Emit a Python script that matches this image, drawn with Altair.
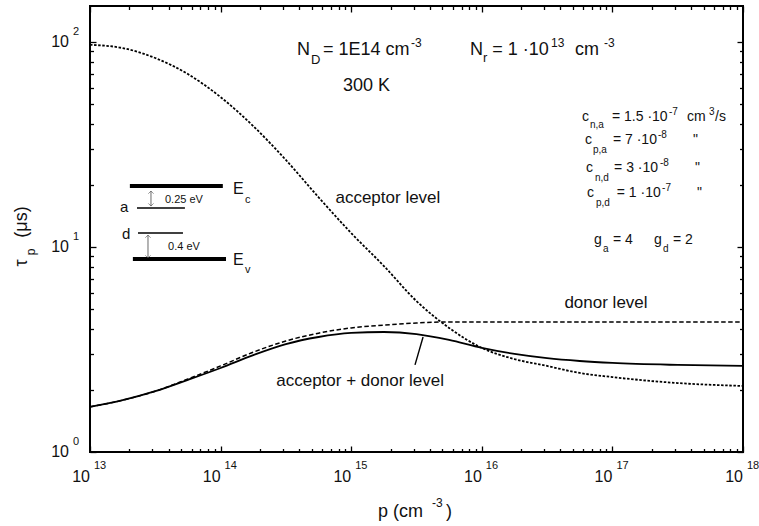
import altair as alt
import pandas as pd

# ---------------- data ----------------
p_cm3 = [1e13, 1.78e13, 3.16e13, 5.62e13, 1e14, 1.78e14, 3.16e14, 5.62e14, 1e15, 1.78e15,
         3.16e15, 5.62e15, 1e16, 1.78e16, 3.16e16, 5.62e16, 1e17, 3.16e17, 1e18]
tau_acceptor = [97, 93.5, 83.6, 69.8, 53.9, 38.9, 26.6, 17.5, 11.7, 8.08,
                5.45, 4.03, 3.22, 2.84, 2.63, 2.43, 2.32, 2.17, 2.10]
tau_donor = [1.66, 1.79, 1.98, 2.27, 2.63, 3.07, 3.48, 3.80, 4.03, 4.16,
             4.26, 4.31, 4.31, 4.31, 4.31, 4.31, 4.31, 4.31, 4.31]
tau_both = [1.66, 1.79, 1.98, 2.25, 2.57, 2.97, 3.36, 3.64, 3.81, 3.85,
            3.76, 3.52, 3.22, 3.01, 2.87, 2.78, 2.72, 2.66, 2.63]

x_major = [1e13, 1e14, 1e15, 1e16, 1e17, 1e18]
x_exp = ["13", "14", "15", "16", "17", "18"]
y_major = [1, 10, 100]
y_exp = ["0", "1", "2"]
x_minor = [k * 10.0 ** e for e in range(13, 18) for k in range(2, 10)]
y_minor = [k * 10.0 ** e for e in range(0, 2) for k in range(2, 10)]

# annotation texts (left aligned), anchored in data coordinates
ann_text = ["N", "D", "= 1E14 cm", "-3", "N", "r", "= 1 \u00b710", "13", "cm", "-3", "300 K",
            "c", "n,a", "= 1.5 \u00b710", "-7", "cm", "3", "/s",
            "c", "p,a", "= 7 \u00b710", "-8", "\"",
            "c", "n,d", "= 3 \u00b710", "-8", "\"",
            "c", "p,d", "= 1 \u00b710", "-7", "\"",
            "g", "a", "= 4", "g", "d", "= 2",
            "a", "d", "E", "c", "E", "v", "0.25 eV", "0.4 eV"]
ann_p = [3.85e14, 4.92e14, 6.08e14, 2.87e15, 8.13e15, 1.02e16, 1.20e16, 3.39e16, 5.18e16, 8.63e16, 8.65e14,
         5.85e16, 6.73e16, 9.93e16, 2.71e17, 3.73e17, 5.50e17, 6.11e17,
         6.17e16, 7.10e16, 1.01e17, 2.23e17, 4.14e17,
         6.28e16, 7.36e16, 1.03e17, 2.31e17, 4.29e17,
         6.40e16, 7.48e16, 1.08e17, 2.40e17, 4.45e17,
         7.23e16, 8.47e16, 1.01e17, 2.08e17, 2.44e17, 2.91e17,
         1.70e13, 1.76e13, 1.245e14, 1.54e14, 1.245e14, 1.54e14, 3.75e13, 3.96e13]
ann_tau = [91.4, 81.7, 91.4, 98.9, 91.4, 83.5, 91.4, 98.9, 91.4, 98.9, 61.0,
           43.1, 39.4, 43.1, 45.6, 43.1, 45.6, 43.1,
           33.3, 29.7, 33.3, 35.2, 33.3,
           24.3, 21.7, 24.3, 25.7, 24.3,
           18.3, 16.4, 18.3, 19.4, 18.3,
           10.8, 9.78, 10.8, 10.8, 9.78, 10.8,
           15.67, 11.57, 19.19, 16.95, 8.64, 7.73, 16.95, 10.0]
ann_size = [18, 13, 18, 12, 18, 13, 18, 12, 18, 12, 18,
            14, 10, 14, 10, 14, 10, 14,
            14, 10, 14, 10, 14,
            14, 10, 14, 10, 14,
            14, 10, 14, 10, 14,
            14, 10, 14, 14, 10, 14,
            15, 15, 16, 11, 16, 11, 11, 11]

# curve labels (centered)
lab_text = ["acceptor level", "donor level", "acceptor + donor level"]
lab_p = [1.91e15, 8.93e16, 1.17e15]
lab_tau = [17.3, 5.33, 2.22]

# pointer from label to solid curve
ptr_p = [3.08e15]
ptr_p2 = [3.55e15]
ptr_tau = [2.66]
ptr_tau2 = [3.64]

# energy diagram (levels and arrows)
band_p1 = [2.02e13, 2.13e13]
band_p2 = [1.04e14, 1.10e14]
band_tau = [19.84, 8.74]
lvl_p1 = [2.29e13, 2.33e13]
lvl_p2 = [5.33e13, 5.15e13]
lvl_tau = [15.5, 11.7]
arr_p = [2.93e13, 2.78e13]
arr_top = [18.76, 11.44]
arr_bot = [15.85, 8.84]

# ---------------- chart ----------------
W, H = 653, 446
X_DOM = [1e13, 1e18]
Y_DOM = [1, 150]
xs = alt.Scale(type="log", domain=X_DOM, nice=False)
ys = alt.Scale(type="log", domain=Y_DOM, nice=False)
MAJ, MIN = 6, 3.5
TICK_COLOR = "black"


def tick_axis(orient, size, values):
    # axis line pushed inside the frame by its tick length -> ticks point inward and end on the frame
    return alt.Axis(orient=orient, offset=-size, values=values, tickSize=size, labels=False,
                    domain=False, grid=False, title=None, ticks=True, tickColor=TICK_COLOR,
                    tickWidth=1.3)


def X(f, axis=None):
    return alt.X(f, type="quantitative", scale=xs, axis=axis)


def Y(f, axis=None):
    return alt.Y(f, type="quantitative", scale=ys, axis=axis)


curves = pd.DataFrame({"p": p_cm3, "acc": tau_acceptor, "don": tau_donor, "both": tau_both})
base = alt.Chart(curves)
acc_line = base.mark_line(color="black", strokeWidth=1.8, strokeDash=[2.5, 1.6], interpolate="monotone").encode(
    x=X("p", tick_axis("bottom", MAJ, x_major)), y=Y("acc", tick_axis("left", MAJ, y_major)))
don_line = base.mark_line(color="black", strokeWidth=1.5, strokeDash=[4.5, 2.5], interpolate="monotone").encode(
    x=X("p", tick_axis("bottom", MIN, x_minor)), y=Y("don", tick_axis("left", MIN, y_minor)))
both_line = base.mark_line(color="black", strokeWidth=1.8, interpolate="monotone").encode(
    x=X("p", tick_axis("top", MAJ, x_major)), y=Y("both", tick_axis("right", MAJ, y_major)))

xmaj = alt.Chart(pd.DataFrame({"p": x_major, "e": x_exp}))
ymaj = alt.Chart(pd.DataFrame({"t": y_major, "e": y_exp}))

txt = dict(font="Liberation Sans", color="#111")
tick_labels = [
    xmaj.mark_text(text="10", align="right", baseline="middle", fontSize=16, **txt).encode(
        x=X("p"), y=alt.value(H + 25)),
    xmaj.mark_text(align="left", baseline="middle", fontSize=11, dx=4, **txt).encode(
        x=X("p"), y=alt.value(H + 14), text="e:N"),
    ymaj.mark_text(text="10", align="right", baseline="middle", fontSize=16, **txt).encode(
        y=Y("t"), x=alt.value(-21)),
    ymaj.mark_text(align="left", baseline="middle", fontSize=11, dy=-10, **txt).encode(
        y=Y("t"), x=alt.value(-17), text="e:N"),
]

one = alt.Chart(pd.DataFrame({"k": [0]}))
titles = [
    one.mark_text(text="p (cm", align="left", baseline="middle", fontSize=18, **txt).encode(
        x=alt.value(288), y=alt.value(506)),
    one.mark_text(text="-3", align="left", baseline="middle", fontSize=12, **txt).encode(
        x=alt.value(342), y=alt.value(497)),
    one.mark_text(text=")", align="left", baseline="middle", fontSize=18, **txt).encode(
        x=alt.value(356), y=alt.value(506)),
    one.mark_text(text="(\u03bcs)", align="center", baseline="middle", fontSize=18, angle=270, **txt).encode(
        x=alt.value(-68), y=alt.value(216)),
    one.mark_text(text="\u03c4", align="center", baseline="middle", fontSize=18, angle=270, **txt).encode(
        x=alt.value(-68), y=alt.value(257)),
    one.mark_text(text="p", align="center", baseline="middle", fontSize=12, angle=270, **txt).encode(
        x=alt.value(-59), y=alt.value(246)),
]

ann = alt.Chart(pd.DataFrame({"text": ann_text, "p": ann_p, "t": ann_tau, "s": ann_size})).mark_text(
    align="left", baseline="middle", **txt).encode(
    x=X("p"), y=Y("t"), text="text:N", size=alt.Size("s:Q", scale=None, legend=None))

labels = alt.Chart(pd.DataFrame({"text": lab_text, "p": lab_p, "t": lab_tau})).mark_text(
    align="center", baseline="middle", fontSize=17, **txt).encode(
    x=X("p"), y=Y("t"), text="text:N")

pointer = alt.Chart(pd.DataFrame({"p": ptr_p, "p2": ptr_p2, "t": ptr_tau, "t2": ptr_tau2})).mark_rule(
    color="black", strokeWidth=1.4).encode(
    x=X("p", tick_axis("top", MIN, x_minor)), x2="p2",
    y=Y("t", tick_axis("right", MIN, y_minor)), y2="t2")

bands = alt.Chart(pd.DataFrame({"p": band_p1, "p2": band_p2, "t": band_tau})).mark_rule(
    color="black", strokeWidth=4).encode(x=X("p"), x2="p2", y=Y("t"))
levels = alt.Chart(pd.DataFrame({"p": lvl_p1, "p2": lvl_p2, "t": lvl_tau})).mark_rule(
    color="black", strokeWidth=1.5).encode(x=X("p"), x2="p2", y=Y("t"))
arr_df = alt.Chart(pd.DataFrame({"p": arr_p, "top": arr_top, "bot": arr_bot}))
shafts = arr_df.mark_rule(color="#444", strokeWidth=0.8).encode(x=X("p"), y=Y("top"), y2="bot")
heads_up = arr_df.mark_point(shape="M-1,1L0,0L1,1", filled=False, size=28, color="#444", strokeWidth=0.8).encode(
    x=X("p"), y=Y("top"))
heads_dn = arr_df.mark_point(shape="M-1,-1L0,0L1,-1", filled=False, size=28, color="#444", strokeWidth=0.8).encode(
    x=X("p"), y=Y("bot"))

chart = alt.layer(
    acc_line, don_line, both_line, pointer, bands, levels, shafts, heads_up, heads_dn,
    ann, labels, *tick_labels, *titles
).resolve_axis(x="independent", y="independent").properties(
    width=W, height=H,
    padding={"left": 90, "top": 6, "right": 16, "bottom": 74},
    autosize=alt.AutoSizeParams(type="none"),
).configure_view(stroke="black", strokeWidth=2)

chart.save("out.html", embed_options={"renderer": "svg", "actions": False})
